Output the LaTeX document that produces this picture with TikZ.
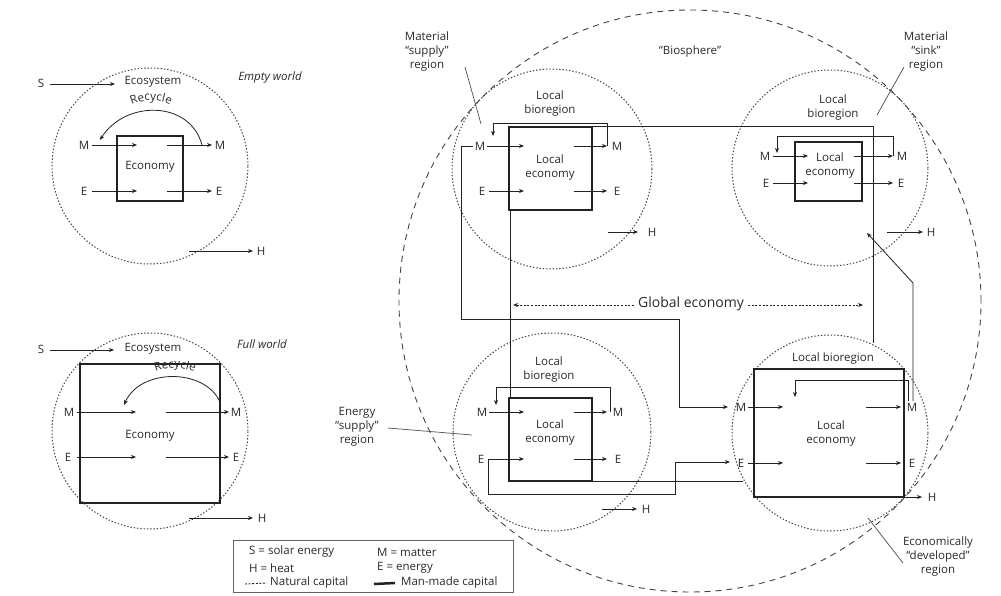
\documentclass[tikz,border=0pt]{standalone}
\usepackage{fontspec}
\setmainfont{Open Sans}
\usetikzlibrary{arrows.meta,decorations.text}
\definecolor{ink}{HTML}{222222}
\definecolor{txt}{HTML}{2A2A2A}
\newcommand\lbf{\fontsize{11.5}{14}\selectfont}
\newcommand\gbf{\fontsize{14}{16}\selectfont}

\begin{document}
\begin{tikzpicture}[x=1pt,y=-1pt,
  lbl/.style={font=\lbf, text=txt, inner sep=0pt},
  ml/.style={lbl, align=center},
  ln/.style={draw=ink, line width=0.8pt},
  arr/.style={ln, -{Stealth[length=5pt,width=4pt]}},
  econ/.style={draw=ink, line width=2.2pt, inner sep=0pt},
  natural/.style={draw=ink!85, line width=1pt, dash pattern=on 1.4pt off 1.9pt, circle, inner sep=0pt},
  biosph/.style={draw=ink!85, line width=0.9pt, dash pattern=on 6pt off 5pt, circle, inner sep=0pt},
  pointer/.style={draw=ink!80, line width=0.7pt},
  flowdash/.style={draw=ink, line width=0.8pt, dash pattern=on 2pt off 1.6pt, -{Stealth[length=5pt,width=4pt]}},
  recyc/.style={decorate, decoration={text along path, text={|\lbf\color{txt}|Recycle}, text align=center}}
]
\useasboundingbox[fill=white] (0,0) rectangle (1001,596);

% ---------------- Empty world ----------------
\node[natural, minimum size=196pt] (eco1) at (150,166) {};
\node[econ, minimum width=66pt, minimum height=65pt] (econ1) at (150,168.5) {};
\node[lbl] (s1) at (41,83) {S};
\node[lbl] (ecolab1) at (153,82) {Ecosystem};
\node[lbl, font=\lbf\itshape] (empty) at (270,78) {Empty world};
\draw[arr] (50,84) -- (115,84);
\node[lbl] (econlab1) at (150,167) {Economy};
\node[lbl] (m1l) at (84,145) {M};
\node[lbl] (m1r) at (220,145) {M};
\node[lbl] (e1l) at (84,191) {E};
\node[lbl] (e1r) at (219,191) {E};
\draw[arr] (92,145) -- (137,145);
\draw[arr] (167,145) -- (212,145);
\draw[arr] (92,191) -- (137,191);
\draw[arr] (167,191) -- (212,191);
\draw[arr] (202,145) .. controls (190,100) and (125,100) .. (100,140);
\path[recyc] (122,111) .. controls (137,97) and (165,97) .. (180,111);
\node[lbl] (h1) at (261,251) {H};
\draw[arr] (189,251) -- (253,251);

% ---------------- Full world ----------------
\node[natural, minimum size=196pt] (eco2) at (150,431) {};
\node[econ, minimum width=140pt, minimum height=139pt] (econ2) at (150,433.5) {};
\node[lbl] (s2) at (41,349) {S};
\node[lbl] (ecolab2) at (153,349) {Ecosystem};
\node[lbl, font=\lbf\itshape] (full) at (262,344) {Full world};
\draw[arr] (50,350) -- (114,350);
\node[lbl] (econlab2) at (150,436) {Economy};
\node[lbl] (m2l) at (69,412) {M};
\node[lbl] (m2r) at (236,412) {M};
\node[lbl] (e2l) at (68,457) {E};
\node[lbl] (e2r) at (236,457) {E};
\draw[arr] (77,412) -- (136,412);
\draw[arr] (166,412) -- (229,412);
\draw[arr] (77,457) -- (136,457);
\draw[arr] (166,457) -- (229,457);
\draw[arr] (220,402) .. controls (205,368) and (140,368) .. (124,405);
\path[recyc] (138,386) .. controls (154,362) and (196,362) .. (212,386);
\node[lbl] (h2) at (262,518) {H};
\draw[arr] (189,518) -- (253,518);

% ---------------- Biosphere ----------------
\node[biosph, minimum size=582pt] (bio) at (690,301) {};
\node[lbl] (biolab) at (690,52) {“Biosphere”};

% material supply region
\node[natural, minimum size=200pt] (regA) at (552,169) {};
\node[ml] (labA) at (427,52) {Material\\“supply”\\region};
\draw[pointer] (465,67) -- (481,124);
\node[ml] (bioA) at (550,104) {Local\\bioregion};
\node[econ, minimum width=83pt, minimum height=83pt] (boxA) at (550.5,168.5) {};
\node[ml] (ecA) at (550,167.5) {Local\\economy};
\node[lbl] (mAl) at (480,146) {M};
\node[lbl] (mAr) at (617,146) {M};
\node[lbl] (eAl) at (482,191) {E};
\node[lbl] (eAr) at (617,191) {E};
\node[lbl] (hA) at (652,232) {H};
\draw[arr] (487,146) -- (524,146);
\draw[arr] (574,146) -- (607,146);
\draw[arr] (489,191) -- (524,191);
\draw[arr] (574,191) -- (607,191);
\draw[arr] (608,232) -- (638,232);
\draw[arr] (607,146) -- (607,123) -- (493,123) -- (493,136);

% material sink region
\node[natural, minimum size=196pt] (regB) at (830,168) {};
\node[ml] (labB) at (926,52) {Material\\“sink”\\region};
\draw[pointer] (904,67) -- (877,115);
\node[ml] (bioB) at (833,107.5) {Local\\bioregion};
\node[econ, minimum width=67pt, minimum height=59pt] (boxB) at (828.5,171.5) {};
\node[ml] (ecB) at (830,165.5) {Local\\economy};
\node[lbl] (mBl) at (765,156) {M};
\node[lbl] (mBr) at (902,156) {M};
\node[lbl] (eBl) at (766,183) {E};
\node[lbl] (eBr) at (901,183) {E};
\node[lbl] (hB) at (931,232) {H};
\draw[arr] (773,156) -- (808,156);
\draw[arr] (854,156) -- (893,156);
\draw[arr] (773,183) -- (808,183);
\draw[arr] (854,183) -- (893,183);
\draw[arr] (887,232) -- (923,232);
\draw[arr] (893,156) -- (893,136) -- (777,136) -- (777,153);

% energy supply region
\node[natural, minimum size=198pt] (regC) at (552,432) {};
\node[ml] (labC) at (357,427) {Energy\\“supply”\\region};
\draw[pointer] (388,428) -- (472,435);
\node[ml] (bioC) at (549,370) {Local\\bioregion};
\node[econ, minimum width=83pt, minimum height=83pt] (boxC) at (550.5,439.5) {};
\node[ml] (ecC) at (550,433) {Local\\economy};
\node[lbl] (mCl) at (482,412) {M};
\node[lbl] (mCr) at (618,412) {M};
\node[lbl] (eCl) at (481,459) {E};
\node[lbl] (eCr) at (618,459) {E};
\node[lbl] (hC) at (646,509) {H};
\draw[arr] (489,412) -- (524,412);
\draw[arr] (574,412) -- (607,412);
\draw[arr] (488,459) -- (524,459);
\draw[arr] (574,459) -- (607,459);
\draw[arr] (602,509) -- (637,509);
\draw[arr] (610,412) -- (610,387) -- (496,387) -- (496,405);

% economically developed region
\node[natural, minimum size=196pt] (regD) at (830,433) {};
\node[lbl] (bioD) at (833,359) {Local bioregion};
\node[econ, minimum width=150pt, minimum height=128pt] (boxD) at (829,433) {};
\node[ml] (ecD) at (831,433.5) {Local\\economy};
\node[lbl] (mDl) at (741,407) {M};
\node[lbl] (mDr) at (912,407) {M};
\node[lbl] (eDl) at (741,463) {E};
\node[lbl] (eDr) at (912,463) {E};
\node[lbl] (hD) at (932,497) {H};
\node[ml] (labD) at (938,557) {Economically\\“developed”\\region};
\draw[pointer] (868,518) -- (903,563);
\draw[arr] (748,407) -- (783,407);
\draw[arr] (866,407) -- (901,407);
\draw[arr] (748,463) -- (783,463);
\draw[arr] (866,463) -- (901,463);
\draw[arr] (904,497) -- (922,497);
\draw[arr] (908,401) -- (908,380) -- (795,380) -- (795,397);

% flows of the global economy
\draw[arr] (473,146) -- (461,146) -- (461,319) -- (679,319) -- (679,407) -- (728,407);
\draw[arr] (488,459) -- (488,494) -- (675,494) -- (675,462) -- (730,462);
\draw[ln] (592,126) -- (873,126) -- (873,343);
\draw[ln] (510,210) -- (510,398);
\draw[ln] (592,481) -- (743,481);
\draw[arr] (913,401) -- (913,283) -- (867,233);
\node[lbl, font=\gbf] (glob) at (691,304) {Global economy};
\draw[flowdash] (glob.west) ++(-4,1) -- (513,305);
\draw[flowdash] (glob.east) ++(4,1) -- (863,305);

% legend
\node[draw=ink!70, line width=0.8pt, minimum width=280pt, minimum height=52pt, inner sep=0pt] (legend) at (373,566) {};
\node[lbl, anchor=west] (lgS) at (249,552) {S = solar energy};
\node[lbl, anchor=west] (lgM) at (377,552) {M = matter};
\node[lbl, anchor=west] (lgH) at (249,568) {H = heat};
\node[lbl, anchor=west] (lgE) at (377,568) {E = energy};
\node[lbl, anchor=west] (lgN) at (270,583) {Natural capital};
\node[lbl, anchor=west] (lgK) at (401,583) {Man-made capital};
\draw[draw=ink, line width=0.9pt, dash pattern=on 2pt off 1.6pt] (245,584) -- ([xshift=-3pt]lgN.west);
\draw[draw=ink, line width=2.5pt] (374,584) -- ([xshift=-6pt]lgK.west);
\end{tikzpicture}
\end{document}
